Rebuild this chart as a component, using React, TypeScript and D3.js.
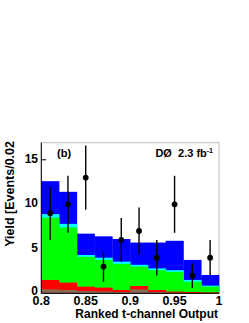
import React, { useRef, useEffect } from 'react';
import * as d3 from 'd3';

// bin edges 0.80 .. 1.00, step 0.02
const binLow = [0.8, 0.82, 0.84, 0.86, 0.88, 0.9, 0.92, 0.94, 0.96, 0.98];
const binWidth = 0.02;

// stacked totals (cumulative top of each layer)
const brownTop = [0.45, 0.37, 0.26, 0.22, 0.15, 0.45, 0.15, 0.07, 0.04, 0.04];
const redTop = [1.5, 1.2, 0.75, 0.64, 0.37, 0.82, 0.37, 0.19, 0.15, 0.11];
const greenTop = [8.5, 7.4, 4.1, 3.75, 3.3, 3.0, 2.6, 2.4, 1.3, 0.75];
const cyanTop = [8.9, 7.8, 4.3, 4.0, 3.56, 3.2, 2.8, 2.6, 1.5, 0.86];
const blueTop = [12.6, 11.4, 6.7, 6.4, 6.1, 5.7, 5.7, 5.9, 3.75, 2.06];

// data points
const dataVals = [9, 10, 13, 3, 6, 7, 4, 10, 2, 4];
const errLow = [3, 3.2, 3.6, 1.7, 2.45, 2.65, 2, 3.2, 1.4, 2];
const errHigh = [3, 3.2, 3.6, 1.7, 2.45, 2.65, 2, 3.2, 1.4, 2];

const xTicks = [0.8, 0.85, 0.9, 0.95, 1];
const xTickLabels = ['0.8', '0.85', '0.9', '0.95', '1'];
const yTicks = [0, 5, 10, 15];

const layers = [
  { tops: blueTop, color: '#0000ff' },
  { tops: cyanTop, color: '#00ffff' },
  { tops: greenTop, color: '#00ff00' },
  { tops: redTop, color: '#ff0000' },
  { tops: brownTop, color: '#8c6654' },
];

const App = () => {
  const ref = useRef<SVGSVGElement>(null);

  useEffect(() => {
    const width = 249;
    const height = 323;
    const left = 41.3;
    const right = 219;
    const top = 142.7;
    const bottom = 293.3;
    const font = '"Liberation Sans", Arial, Helvetica, sans-serif';

    const x = d3.scaleLinear().domain([0.8, 1]).range([left, right]);
    const y = d3.scaleLinear().domain([0, 16.92]).range([bottom, top]);

    const svg = d3.select(ref.current);
    svg.selectAll('*').remove();
    svg.attr('width', width).attr('height', height);

    svg.append('rect').attr('width', width).attr('height', height).attr('fill', '#fff');

    // frame (grey top/right)
    svg.append('rect')
      .attr('x', left).attr('y', top)
      .attr('width', right - left).attr('height', bottom - top)
      .attr('fill', 'none').attr('stroke', '#bbb').attr('stroke-width', 1);

    // y ticks
    svg.append('g').selectAll('line').data(yTicks).join('line')
      .attr('x1', left).attr('x2', left + 5)
      .attr('y1', d => y(d)).attr('y2', d => y(d))
      .attr('stroke', '#000');

    // stacked histograms, drawn from top layer down
    layers.forEach(l => {
      svg.append('g').selectAll('rect').data(binLow).join('rect')
        .attr('x', d => x(d))
        .attr('width', d => x(d + binWidth) - x(d) + 0.3)
        .attr('y', (d, i) => y(l.tops[i]))
        .attr('height', (d, i) => bottom - y(l.tops[i]))
        .attr('fill', l.color);
    });

    // axes lines
    svg.append('line').attr('x1', left).attr('x2', left).attr('y1', top).attr('y2', bottom)
      .attr('stroke', '#000');
    svg.append('line').attr('x1', left).attr('x2', right).attr('y1', bottom).attr('y2', bottom)
      .attr('stroke', '#000');

    // data points with errors
    const pts = svg.append('g');
    binLow.forEach((b, i) => {
      const cx = x(b + binWidth / 2);
      pts.append('line')
        .attr('x1', cx).attr('x2', cx)
        .attr('y1', y(dataVals[i] - errLow[i])).attr('y2', y(dataVals[i] + errHigh[i]))
        .attr('stroke', '#000').attr('stroke-width', 1.4);
      pts.append('circle').attr('cx', cx).attr('cy', y(dataVals[i])).attr('r', 2.9).attr('fill', '#000');
    });

    // tick labels
    svg.append('g').selectAll('text').data(xTicks).join('text')
      .attr('x', d => x(d)).attr('y', 305)
      .attr('text-anchor', 'middle')
      .attr('font-family', font).attr('font-weight', 'bold').attr('font-size', 12.5)
      .text((d, i) => xTickLabels[i]);

    svg.append('g').selectAll('text').data(yTicks).join('text')
      .attr('x', 38).attr('y', d => y(d) + (d === 0 ? 2 : 3))
      .attr('text-anchor', 'end')
      .attr('font-family', font).attr('font-weight', 'bold').attr('font-size', 12)
      .text(d => d);

    // axis titles
    svg.append('text')
      .attr('x', 218).attr('y', 318)
      .attr('text-anchor', 'end')
      .attr('font-family', font).attr('font-weight', 'bold').attr('font-size', 12)
      .text('Ranked t-channel Output');

    svg.append('text')
      .attr('transform', 'translate(13.5,141) rotate(-90)')
      .attr('text-anchor', 'end')
      .attr('font-family', font).attr('font-weight', 'bold').attr('font-size', 12.5)
      .text('Yield [Events/0.02');

    // annotations
    svg.append('text')
      .attr('x', 57).attr('y', 157)
      .attr('font-family', font).attr('font-weight', 'bold').attr('font-size', 11)
      .text('(b)');

    const lab = svg.append('text')
      .attr('x', 213).attr('y', 157)
      .attr('text-anchor', 'end')
      .attr('font-family', font).attr('font-weight', 'bold').attr('font-size', 11);
    lab.append('tspan').text('DØ\u00a0\u00a02.3 fb');
    lab.append('tspan').attr('dy', -4).attr('font-size', 7).text('-1');
  }, []);

  return <svg ref={ref} style={{ position: 'absolute', left: 0, top: 0 }} />;
};

export default App;
